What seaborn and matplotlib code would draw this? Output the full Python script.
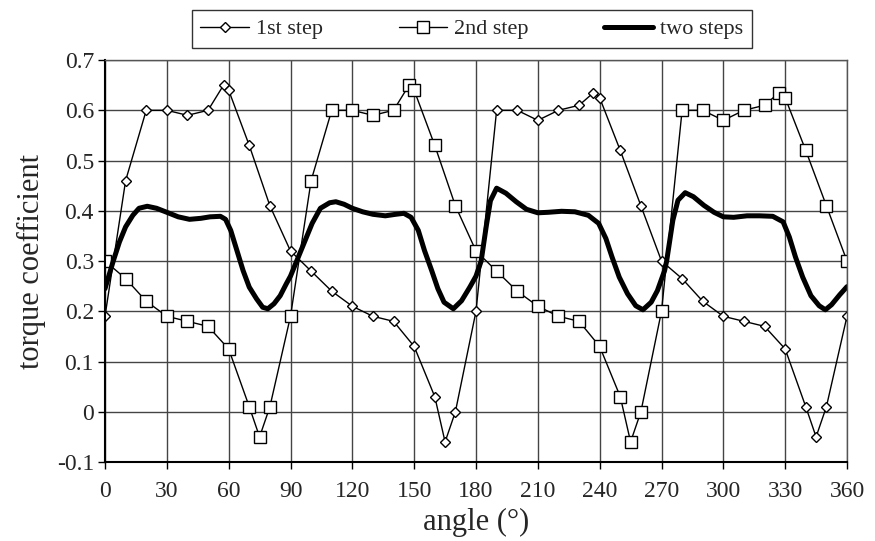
import matplotlib
matplotlib.use("Agg")
import matplotlib.pyplot as plt
import seaborn as sns
import pandas as pd

# 1st step (diamonds)
step1_angle = [0, 10, 20, 30, 40, 50, 57.5, 60, 70, 80,
               90, 100, 110, 120, 130, 140, 150, 160, 165, 170,
               180, 190, 200, 210, 220, 230, 237, 240, 250, 260,
               270, 280, 290, 300, 310, 320, 330, 340, 345, 350, 360]
step1_val = [0.19, 0.46, 0.60, 0.60, 0.59, 0.60, 0.65, 0.64, 0.53, 0.41,
             0.32, 0.28, 0.24, 0.21, 0.19, 0.18, 0.13, 0.03, -0.06, 0.00,
             0.20, 0.60, 0.60, 0.58, 0.60, 0.61, 0.635, 0.625, 0.52, 0.41,
             0.30, 0.265, 0.22, 0.19, 0.18, 0.17, 0.125, 0.01, -0.05, 0.01, 0.19]

# 2nd step (squares)
step2_angle = [0, 10, 20, 30, 40, 50, 60, 70, 75, 80,
               90, 100, 110, 120, 130, 140, 147.5, 150, 160, 170,
               180, 190, 200, 210, 220, 230, 240, 250, 255, 260,
               270, 280, 290, 300, 310, 320, 327, 330, 340, 350, 360]
step2_val = [0.30, 0.265, 0.22, 0.19, 0.18, 0.17, 0.125, 0.01, -0.05, 0.01,
             0.19, 0.46, 0.60, 0.60, 0.59, 0.60, 0.65, 0.64, 0.53, 0.41,
             0.32, 0.28, 0.24, 0.21, 0.19, 0.18, 0.13, 0.03, -0.06, 0.00,
             0.20, 0.60, 0.60, 0.58, 0.60, 0.61, 0.635, 0.625, 0.52, 0.41, 0.30]

# two steps (thick line)
both_angle = [0, 4, 7, 10, 13.5, 16.5, 20.5, 25, 30, 35.5, 41, 46.5, 51, 56, 58.5,
              61, 64, 67, 70, 73.5, 76.5, 79, 82, 85, 88, 90, 93, 96.5, 100.5,
              104.5, 109, 112, 116, 120, 125, 130, 136, 141, 145, 148.5, 152, 155,
              158.5, 161.5, 164.5, 169, 173, 177, 180, 182.5, 185, 187, 190, 194.5,
              199.5, 204.5, 210, 215, 221.5, 228, 234.5, 239.5, 243, 246, 249.5,
              253.5, 257.5, 261, 265, 268, 271.5, 272.5, 275.5, 278, 281.5, 285.5,
              290.5, 295.5, 300, 305, 311.5, 317.5, 324, 329, 332, 335, 338.5,
              342.5, 346.5, 349.5, 352.5, 356.5, 360]
both_val = [0.245, 0.30, 0.338, 0.368, 0.391, 0.405, 0.409, 0.405, 0.397, 0.388, 0.383,
            0.385, 0.388, 0.389, 0.383, 0.361, 0.321, 0.281, 0.248, 0.225, 0.208, 0.205,
            0.215, 0.231, 0.255, 0.27, 0.30, 0.335, 0.375, 0.405, 0.416, 0.418, 0.413,
            0.405, 0.398, 0.393, 0.39, 0.393, 0.395, 0.387, 0.361, 0.321, 0.281, 0.245,
            0.218, 0.205, 0.221, 0.248, 0.27, 0.30, 0.37, 0.42, 0.445, 0.435, 0.418,
            0.403, 0.396, 0.397, 0.399, 0.398, 0.391, 0.375, 0.345, 0.308, 0.268, 0.235,
            0.211, 0.203, 0.218, 0.241, 0.281, 0.300, 0.381, 0.421, 0.436, 0.428, 0.411,
            0.397, 0.388, 0.387, 0.39, 0.39, 0.389, 0.378, 0.348, 0.308, 0.268, 0.231,
            0.211, 0.203, 0.213, 0.233, 0.249]

x_ticks = list(range(0, 361, 30))
y_ticks = [-0.1, 0, 0.1, 0.2, 0.3, 0.4, 0.5, 0.6, 0.7]
y_labels = ["-0.1", "0", "0.1", "0.2", "0.3", "0.4", "0.5", "0.6", "0.7"]

sns.set_style("white")
plt.rcParams['font.family'] = ['Liberation Serif', 'DejaVu Serif']

df1 = pd.DataFrame({"angle": step1_angle, "val": step1_val})
df2 = pd.DataFrame({"angle": step2_angle, "val": step2_val})
df3 = pd.DataFrame({"angle": both_angle, "val": both_val})

fig = plt.figure(figsize=(8.75, 5.41), dpi=100)
ax = fig.add_axes([0.12, 0.146, 0.848, 0.743])

sns.lineplot(data=df1, x="angle", y="val", ax=ax, color="black", linewidth=1,
             marker="D", markersize=5, markerfacecolor="white", markeredgecolor="black",
             markeredgewidth=1, label="1st step", sort=False)
sns.lineplot(data=df2, x="angle", y="val", ax=ax, color="black", linewidth=1,
             marker="s", markersize=8, markerfacecolor="white", markeredgecolor="black",
             markeredgewidth=1, label="2nd step", sort=False)
sns.lineplot(data=df3, x="angle", y="val", ax=ax, color="black", linewidth=3.6,
             label="two steps", sort=False)

ax.set_xlim(0, 360)
ax.set_ylim(-0.1, 0.7)
ax.set_xticks(x_ticks)
ax.set_yticks(y_ticks)
ax.set_yticklabels(y_labels)
ax.grid(True, color="#444444", linewidth=1)
ax.set_axisbelow(True)
ax.tick_params(axis="both", direction="out", length=5, width=1, color="black",
               labelsize=17, bottom=True, left=True)
ax.tick_params(axis="x", pad=9)
ax.tick_params(axis="y", pad=3)
for side in ["left", "bottom"]:
    ax.spines[side].set_color("black")
    ax.spines[side].set_linewidth(1.5)
for side in ["top", "right"]:
    ax.spines[side].set_color("#555555")
    ax.spines[side].set_linewidth(1)

ax.set_xlabel("angle (°)", fontsize=22, labelpad=4)
ax.set_ylabel("torque coefficient", fontsize=22, labelpad=8)

leg = ax.legend(loc="center", bbox_to_anchor=(0.539, 0.946), bbox_transform=fig.transFigure,
                ncol=3, frameon=True, fancybox=False, fontsize=16, handlelength=2.2,
                handletextpad=0.3, columnspacing=3.4, borderpad=0.4)
leg.get_frame().set_edgecolor("black")
leg.get_frame().set_linewidth(1)

fig.savefig("out.png", dpi=100)
